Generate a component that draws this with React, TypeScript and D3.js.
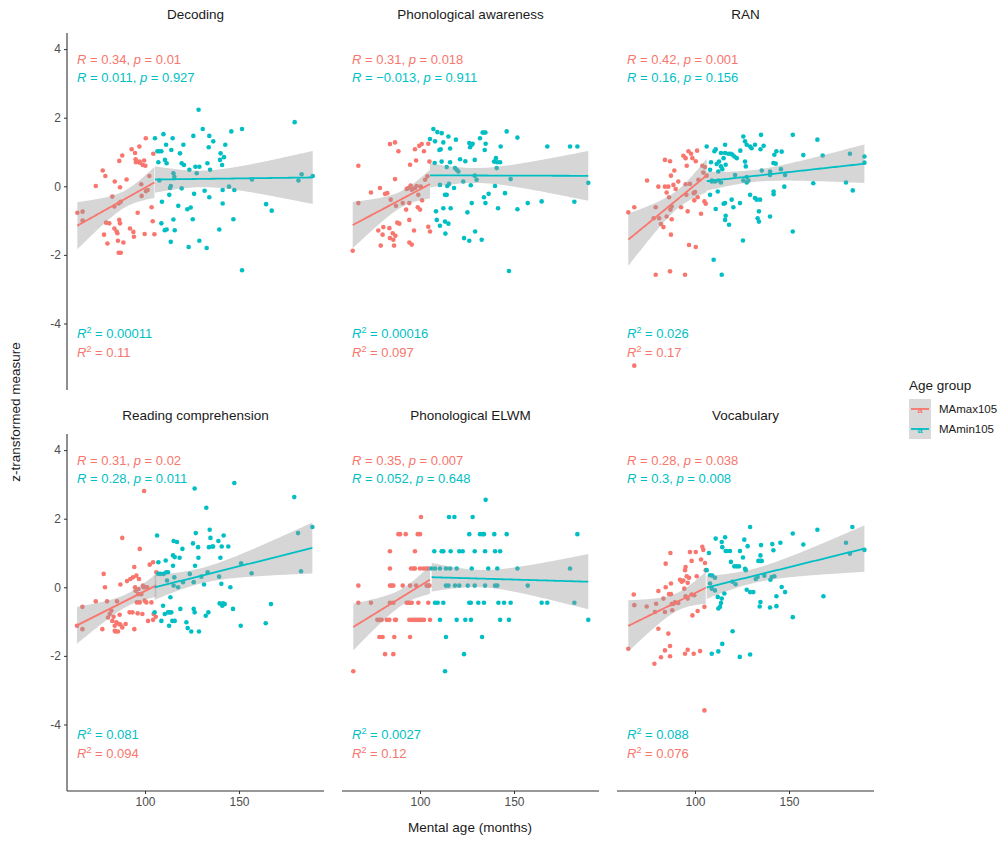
import React, { useEffect, useRef } from 'react';
import * as d3 from 'd3';

type Pt = [number, number];

const groups = ['MAmax105', 'MAmin105'];
const groupColors = ['#F8766D', '#00BFC4'];
const yTicks = [-4, -2, 0, 2, 4];
const xTicks = [100, 150];

const decodingRed: Pt[] = [[64.0,-0.77],[66.8,-0.74],[66.8,-1.0],[73.8,0.01],[77.5,0.46],[78.9,0.30],[78.2,-1.41],[80.0,-1.67],[79.3,-1.06],[81.0,-1.08],[82.6,-0.30],[83.7,-0.59],[83.9,0.14],[83.7,-1.23],[84.9,-1.32],[85.3,-1.37],[85.6,-1.59],[86.0,-1.94],[87.1,-1.94],[86.3,-0.98],[86.7,-1.08],[86.0,-0.50],[87.1,-0.45],[86.7,-0.03],[86.3,0.74],[87.9,0.90],[88.5,-1.64],[90.2,0.20],[92.0,-1.23],[92.9,1.08],[93.8,-1.33],[94.1,-1.47],[94.7,0.97],[95.0,0.79],[95.2,0.70],[97.0,1.16],[97.0,0.72],[96.1,-0.77],[97.3,0.69],[98.0,0.06],[98.2,-0.28],[98.8,0.62],[99.5,0.75],[100.2,0.60],[99.8,-1.39],[100.4,1.40],[100.5,-0.14],[101.4,-0.11],[102.3,0.30],[103.5,-0.61],[104.1,-1.02],[104.4,0.95],[105.0,-1.40]];
const decodingBlue: Pt[] = [[105.3,1.40],[106.6,1.02],[107.6,1.02],[108.7,1.02],[109.8,1.52],[110.6,0.77],[111.2,1.21],[111.5,0.67],[107.1,0.70],[107.6,0.17],[109.0,-0.45],[108.7,-1.08],[110.5,-1.28],[111.5,-1.26],[112.9,-0.25],[113.3,-0.05],[113.7,0.01],[113.7,-1.62],[114.0,1.06],[114.7,1.40],[115.1,0.38],[115.1,-0.97],[115.8,-1.28],[115.6,0.28],[117.7,-0.57],[118.6,0.96],[119.5,0.67],[120.4,1.21],[120.7,0.62],[119.5,-0.06],[122.5,-0.67],[123.2,-1.77],[123.6,0.48],[124.3,-0.62],[125.4,-0.96],[125.7,1.47],[126.1,-0.22],[126.8,0.57],[127.5,0.38],[128.5,2.23],[128.9,0.57],[128.9,-1.59],[130.7,1.67],[131.7,-0.13],[132.8,-1.80],[133.2,0.67],[133.9,1.14],[134.2,1.47],[134.6,0.48],[134.2,-0.32],[136.3,1.31],[139.5,-1.26],[139.9,0.77],[140.2,0.96],[141.0,0.62],[141.3,-0.11],[141.3,-0.50],[142.0,0.85],[142.7,1.21],[144.7,-0.01],[145.9,1.60],[147.0,-0.96],[147.5,-0.11],[151.6,1.67],[151.6,-2.45],[156.9,0.20],[164.4,-0.52],[167.4,-0.71],[179.6,1.87],[181.6,0.17],[183.3,0.35],[189.2,0.30]];

const phonRed: Pt[] = [[64.2,-1.88],[67.2,0.60],[67.2,-0.49],[73.9,-0.18],[77.8,-1.29],[78.7,-0.05],[79.1,-1.73],[80.1,-1.41],[80.5,-1.19],[81.4,-0.22],[82.6,-0.20],[83.7,-1.22],[84.0,1.23],[84.4,-0.39],[84.0,-1.51],[85.5,-1.37],[85.8,-1.56],[86.2,-1.73],[86.7,1.28],[86.7,0.21],[86.9,-1.44],[87.2,-0.57],[87.9,-1.06],[88.5,1.02],[89.0,-1.09],[90.8,-0.49],[92.6,-0.68],[92.9,-0.08],[93.8,-0.05],[94.7,0.63],[94.3,-0.98],[94.3,-0.49],[94.3,-1.64],[95.0,0.02],[95.6,-1.70],[95.6,-0.10],[96.1,-0.08],[96.8,-1.29],[97.3,1.08],[97.3,-0.05],[97.9,0.75],[98.2,0.01],[98.8,-0.61],[99.1,-0.25],[99.6,1.18],[100.0,-0.68],[100.4,-0.01],[100.9,1.23],[101.1,-0.41],[102.1,1.02],[102.7,0.19],[103.9,0.29],[104.4,1.24],[104.4,-1.18],[105.0,0.72],[105.3,-1.32]];
const phonBlue: Pt[] = [[105.3,1.38],[107.1,1.67],[108.0,1.31],[109.2,1.58],[110.3,1.06],[111.0,1.08],[111.5,1.55],[112.4,1.28],[115.1,1.45],[116.0,1.10],[119.1,1.36],[107.8,0.68],[110.6,0.04],[111.5,0.72],[112.4,-0.64],[113.3,-0.25],[114.2,0.56],[114.2,-0.25],[114.5,0.01],[115.4,0.07],[116.0,0.70],[116.3,-0.64],[118.1,-0.05],[118.6,0.53],[119.5,0.48],[120.4,0.43],[121.3,0.79],[108.5,-0.73],[108.9,-0.98],[110.6,-1.15],[113.3,-1.03],[115.1,-1.09],[113.5,-1.38],[123.0,0.14],[124.1,0.73],[125.2,-0.76],[126.2,1.26],[126.6,1.14],[127.5,1.21],[128.0,1.24],[127.0,0.03],[127.5,-0.49],[129.1,0.77],[129.1,0.31],[130.1,0.19],[123.4,-1.51],[126.2,-1.59],[129.3,-1.32],[132.8,-1.56],[131.9,1.40],[133.3,1.57],[134.0,1.57],[134.8,1.57],[134.4,1.06],[134.9,1.24],[134.0,-0.32],[134.8,-0.49],[136.5,-0.22],[139.4,0.72],[139.9,0.01],[140.4,0.82],[140.8,0.53],[141.1,0.70],[142.6,0.70],[141.5,-0.64],[142.9,1.16],[145.2,-0.20],[146.1,1.60],[147.3,-2.47],[148.2,0.21],[151.8,1.42],[151.8,-0.67],[157.3,-0.49],[164.7,-0.44],[167.7,1.16],[179.8,1.16],[182.1,-0.45],[183.7,1.16],[189.5,0.10]];

const ranRed: Pt[] = [[64.5,-0.76],[67.7,-0.61],[74.5,0.17],[78.0,-0.93],[79.1,-0.61],[79.1,-2.58],[80.5,-0.01],[80.9,-0.93],[81.9,-1.10],[83.2,-1.19],[84.0,0.77],[84.0,-0.01],[84.9,-0.18],[84.9,-0.88],[85.8,-0.01],[86.2,-0.32],[86.7,0.73],[86.7,-2.48],[86.9,-0.68],[87.2,0.31],[87.2,-1.41],[87.6,-0.59],[87.6,-0.96],[88.5,0.04],[89.0,0.46],[89.7,-0.08],[91.1,0.14],[92.6,-0.61],[93.8,0.89],[94.7,-2.58],[95.0,0.82],[95.0,0.06],[95.4,-0.25],[95.6,0.60],[96.1,-0.73],[96.5,1.02],[96.8,-1.71],[97.3,0.07],[97.9,0.95],[98.6,0.82],[99.3,-0.20],[99.6,-0.41],[100.0,-0.17],[100.4,-1.77],[100.4,0.73],[101.1,1.04],[101.4,-0.32],[101.8,0.19],[103.2,-0.80],[103.9,0.60],[104.4,0.40],[105.0,-0.44],[105.3,0.56],[105.7,-0.51],[106.2,0.31],[67.7,-5.23]];
const ranBlue: Pt[] = [[106.2,1.16],[108.0,0.48],[108.5,0.70],[108.9,0.17],[110.3,1.02],[111.0,1.08],[111.5,0.65],[112.4,0.43],[112.8,0.72],[113.8,0.97],[113.8,0.58],[114.5,0.50],[115.2,0.82],[116.0,1.21],[116.0,0.97],[116.3,0.63],[117.7,0.95],[119.1,0.95],[119.9,0.92],[120.9,0.87],[122.2,0.82],[124.1,1.04],[125.7,1.45],[126.6,1.31],[127.5,1.21],[129.3,1.16],[130.1,1.11],[131.9,1.21],[135.1,1.50],[136.5,1.18],[134.8,1.08],[143.3,1.02],[146.1,1.01],[152.0,1.50],[157.6,0.91],[165.1,1.36],[167.9,0.90],[182.4,0.95],[190.1,0.87],[108.0,-0.25],[108.9,0.14],[110.6,0.14],[112.4,0.17],[112.1,-0.15],[113.8,0.11],[111.0,-0.66],[115.2,-0.51],[116.0,-0.49],[116.3,-0.86],[116.0,-0.98],[118.1,-1.12],[119.5,-0.39],[120.4,-0.61],[123.9,-0.49],[126.6,0.72],[127.0,0.58],[127.5,0.27],[128.4,0.17],[121.3,0.33],[129.3,-0.25],[131.9,-0.34],[132.8,-0.39],[134.6,-0.39],[134.0,-0.73],[133.3,-0.93],[134.0,-1.03],[139.9,-0.88],[135.5,0.46],[139.9,0.33],[139.9,0.43],[142.2,0.92],[141.7,0.68],[142.9,0.66],[145.7,0.50],[147.9,0.33],[147.5,-0.01],[141.8,-0.15],[141.8,-0.23],[152.0,-1.32],[125.5,-1.58],[109.9,-2.14],[114.2,-2.58],[180.3,0.11],[183.9,-0.12],[190.1,0.69],[162.9,0.09],[125.7,0.17],[127.5,0.11]];

const readRed: Pt[] = [[63.8,-1.12],[66.7,-0.57],[66.7,-1.22],[73.8,-0.41],[77.3,-1.22],[78.0,0.39],[78.7,0.00],[79.8,-0.41],[80.3,-0.88],[81.2,-0.78],[82.1,-0.68],[82.6,-0.98],[83.3,-0.86],[83.9,-1.27],[83.9,-1.12],[84.4,-1.29],[84.8,-1.02],[85.1,-0.41],[85.6,-1.29],[86.2,-1.07],[86.5,-0.80],[86.9,-1.09],[86.9,0.08],[87.9,-1.17],[87.9,1.44],[89.7,-1.07],[90.4,0.18],[91.8,-0.73],[92.2,0.24],[93.3,-0.73],[93.6,0.29],[94.3,-1.22],[94.3,0.59],[94.7,0.00],[95.0,-0.10],[95.4,0.34],[95.7,-0.44],[96.1,-0.76],[96.3,-0.20],[96.5,-0.05],[96.8,0.24],[99.5,2.81],[97.2,-0.44],[97.2,1.12],[98.0,-0.20],[98.6,-0.78],[98.9,0.05],[99.3,0.00],[99.8,-0.39],[100.4,0.00],[100.7,-0.44],[101.1,0.00],[101.6,-0.98],[102.5,0.66],[103.4,-0.44],[104.3,0.73],[104.3,-0.95],[104.6,-0.78],[105.7,-0.86],[106.0,0.44]];
const readBlue: Pt[] = [[105.1,-0.73],[106.4,1.51],[107.1,0.73],[107.1,0.39],[108.2,0.39],[108.7,-0.98],[109.6,-0.54],[109.9,0.39],[110.5,-0.78],[111.0,0.78],[111.3,0.44],[111.7,0.20],[112.2,0.44],[112.2,-0.73],[112.8,-1.12],[113.1,-0.73],[113.5,-0.29],[114.0,-0.73],[114.5,-0.98],[114.9,0.63],[114.9,0.93],[115.2,1.35],[115.2,0.05],[115.6,0.29],[115.8,-0.98],[115.8,0.88],[117.0,1.32],[117.6,0.00],[118.4,0.86],[118.8,-0.63],[119.9,1.12],[120.2,0.15],[122.0,-1.02],[122.7,-1.19],[123.8,0.39],[124.6,-1.29],[125.5,1.28],[125.9,0.15],[125.9,-0.63],[126.4,-0.73],[126.6,0.63],[127.0,1.58],[128.2,1.17],[128.4,0.86],[128.7,-1.29],[130.0,0.31],[131.4,0.08],[132.3,-0.83],[132.6,2.32],[133.3,0.44],[133.7,-0.73],[134.0,1.17],[134.4,1.68],[134.8,1.44],[135.8,1.19],[136.2,1.19],[139.0,1.35],[139.4,0.31],[139.7,-0.47],[140.1,0.86],[140.6,0.10],[140.8,1.19],[141.1,-0.54],[141.5,-0.47],[141.8,1.51],[142.4,-0.49],[144.3,1.19],[145.4,0.00],[146.8,-0.63],[147.5,3.04],[150.9,-1.12],[151.1,0.70],[156.7,0.41],[164.2,-1.05],[167.0,-0.49],[179.4,2.63],[181.4,1.58],[183.0,0.47],[189.0,1.76],[126.4,2.88]];

const elwmRed: Pt[] = [[100.5,2.05],[88.5,1.55],[89.4,1.55],[92.4,1.55],[98.8,1.55],[100.0,1.55],[84.0,1.05],[97.3,1.05],[84.0,0.55],[95.2,0.55],[96.5,0.55],[97.3,0.55],[100.0,0.55],[101.8,0.55],[103.2,0.55],[104.4,0.55],[67.2,0.05],[84.0,0.05],[84.9,0.05],[85.8,0.05],[90.8,0.05],[94.7,0.05],[97.9,0.05],[103.5,0.05],[104.4,0.05],[105.0,0.05],[67.2,-0.45],[73.9,-0.45],[84.0,-0.45],[85.8,-0.45],[92.9,-0.45],[93.8,-0.45],[94.7,-0.45],[95.6,-0.45],[99.1,-0.45],[104.4,-0.45],[77.3,-0.95],[78.4,-0.95],[79.6,-0.95],[82.3,-0.95],[83.7,-0.95],[86.7,-0.95],[87.2,-0.95],[94.3,-0.95],[95.6,-0.95],[96.8,-0.95],[97.9,-0.95],[99.1,-0.95],[100.0,-0.95],[100.9,-0.95],[102.1,-0.95],[105.3,-0.95],[78.4,-1.45],[80.1,-1.45],[86.3,-1.45],[94.7,-1.45],[81.4,-1.95],[85.8,-1.95],[64.5,-2.45]];
const elwmBlue: Pt[] = [[134.9,2.55],[115.4,2.05],[118.3,2.05],[128.0,2.05],[126.2,1.55],[131.9,1.55],[133.3,1.55],[134.0,1.55],[139.5,1.55],[146.1,1.55],[183.7,1.55],[107.6,1.05],[111.5,1.05],[112.4,1.05],[116.3,1.05],[120.9,1.05],[122.7,1.05],[129.1,1.05],[134.6,1.05],[139.9,1.05],[142.6,1.05],[106.2,0.55],[108.0,0.55],[110.6,0.55],[113.8,0.55],[116.0,0.55],[119.5,0.55],[127.5,0.55],[136.3,0.55],[141.1,0.55],[151.8,0.55],[179.8,0.55],[113.8,0.05],[115.1,0.05],[118.6,0.05],[120.9,0.05],[125.4,0.05],[129.1,0.05],[134.6,0.05],[139.9,0.05],[141.1,0.05],[157.3,0.05],[108.0,-0.45],[109.4,-0.45],[112.4,-0.45],[126.2,-0.45],[127.0,-0.45],[131.0,-0.45],[134.0,-0.45],[141.7,-0.45],[144.7,-0.45],[148.2,-0.45],[164.7,-0.45],[167.7,-0.45],[182.1,-0.45],[110.6,-0.95],[119.5,-0.95],[124.1,-0.95],[127.1,-0.95],[142.6,-0.95],[147.3,-0.95],[189.5,-0.95],[113.8,-1.45],[133.0,-1.45],[123.4,-1.95],[113.3,-2.45]];

const vocabRed: Pt[] = [[64.5,-1.79],[67.4,-0.21],[67.7,-0.52],[74.3,-0.56],[78.7,-0.72],[79.3,-0.48],[80.5,-0.11],[80.5,-1.21],[81.9,-2.04],[83.2,-0.33],[84.0,-0.72],[84.4,0.00],[84.4,0.69],[84.0,-1.84],[85.8,-1.35],[86.2,-0.20],[86.7,-1.71],[86.7,-2.01],[86.9,1.00],[87.2,-0.20],[87.6,-0.49],[87.2,0.11],[87.9,-0.67],[88.5,-0.48],[89.4,-0.44],[91.1,-0.46],[92.0,0.22],[92.9,0.16],[93.8,0.20],[94.3,-0.04],[94.7,0.50],[94.7,-1.94],[95.0,0.59],[95.0,-0.26],[95.6,0.32],[96.1,0.13],[96.1,-0.33],[96.8,0.28],[97.3,1.03],[98.2,0.77],[98.6,-0.82],[99.3,-1.94],[99.6,-0.23],[100.4,1.03],[100.9,0.32],[101.4,-0.69],[102.7,-1.86],[103.2,0.81],[103.9,1.18],[104.4,1.09],[105.0,-0.57],[105.3,0.71],[105.7,0.50],[105.0,-3.59],[96.1,-1.82],[78.4,-2.23],[98.2,-0.21]];
const vocabBlue: Pt[] = [[107.4,1.00],[106.2,0.50],[108.0,0.35],[109.2,0.34],[110.6,0.28],[108.0,0.11],[108.9,-0.04],[110.6,-0.09],[112.1,-0.28],[112.4,-0.62],[113.3,-0.57],[114.2,-0.33],[113.8,-0.46],[115.6,-0.18],[111.0,1.42],[114.2,1.32],[114.5,1.17],[116.0,1.46],[116.3,1.06],[117.0,1.06],[118.6,1.06],[119.1,0.74],[120.9,0.61],[122.2,0.61],[123.4,0.61],[123.9,1.06],[125.5,0.87],[126.2,1.39],[126.6,0.54],[127.0,0.50],[128.0,1.20],[129.3,1.76],[119.9,0.16],[121.6,0.09],[127.5,-0.07],[129.3,-0.14],[131.0,-0.14],[132.3,0.24],[133.3,0.30],[133.7,0.77],[134.8,0.77],[134.8,0.93],[135.5,0.77],[135.1,1.23],[136.9,0.34],[140.1,0.22],[140.8,0.30],[141.1,1.26],[141.7,1.08],[142.2,0.32],[145.4,1.30],[146.1,0.01],[147.9,-0.14],[143.3,-0.26],[134.8,-0.43],[134.4,-0.56],[139.9,-0.59],[143.3,-0.55],[152.0,1.57],[157.6,1.25],[165.1,1.68],[168.3,-0.26],[152.0,-0.87],[120.0,-1.28],[114.5,-1.65],[112.4,-1.87],[108.9,-1.94],[123.8,-2.03],[129.3,-1.96],[180.3,1.30],[182.4,0.98],[183.7,1.76],[190.1,1.09]];

const panelTitles = ['Decoding', 'Phonological awareness', 'RAN', 'Reading comprehension', 'Phonological ELWM', 'Vocabulary'];
const panelData: Pt[][][] = [
  [decodingRed, decodingBlue], [phonRed, phonBlue], [ranRed, ranBlue],
  [readRed, readBlue], [elwmRed, elwmBlue], [vocabRed, vocabBlue],
];
// [R, p] per group (red, blue)
const corrLabels = [
  [['0.34', '0.01'], ['0.011', '0.927']],
  [['0.31', '0.018'], ['\u22120.013', '0.911']],
  [['0.42', '0.001'], ['0.16', '0.156']],
  [['0.31', '0.02'], ['0.28', '0.011']],
  [['0.35', '0.007'], ['0.052', '0.648']],
  [['0.28', '0.038'], ['0.3', '0.008']],
];
// R² per group (red, blue)
const r2Labels = [
  ['0.11', '0.00011'], ['0.097', '0.00016'], ['0.17', '0.026'],
  ['0.094', '0.081'], ['0.12', '0.0027'], ['0.076', '0.088'],
];

function fit(pts: Pt[]) {
  const n = pts.length;
  const mx = d3.mean(pts, d => d[0])!;
  const my = d3.mean(pts, d => d[1])!;
  const sxx = d3.sum(pts, d => (d[0] - mx) ** 2);
  const sxy = d3.sum(pts, d => (d[0] - mx) * (d[1] - my));
  const b = sxy / sxx;
  const a = my - b * mx;
  const sse = d3.sum(pts, d => (d[1] - a - b * d[0]) ** 2);
  const s = Math.sqrt(sse / (n - 2));
  const t = 1.99;
  const [x0, x1] = d3.extent(pts, d => d[0]) as [number, number];
  const xs = d3.range(0, 81).map(i => x0 + ((x1 - x0) * i) / 80);
  return xs.map(x => {
    const yhat = a + b * x;
    const se = s * Math.sqrt(1 / n + (x - mx) ** 2 / sxx);
    return { x, y: yhat, lo: yhat - t * se, hi: yhat + t * se };
  });
}

const App: React.FC = () => {
  const svgRef = useRef<SVGSVGElement>(null);

  useEffect(() => {
    if (!svgRef.current) return;
    const svg = d3.select(svgRef.current);
    svg.selectAll('*').remove();
    const font = 'Arial, "Liberation Sans", sans-serif';

    const lefts = [67, 342, 617];
    const pw = 257;
    const tops = [33, 434];
    const ph = 357;

    const x = d3.scaleLinear().domain([58.5, 58.5 + pw / 1.88]).range([0, pw]);
    const y = d3.scaleLinear().domain([-5.94, 4.47]).range([ph, 0]);

    panelData.forEach((groupsPts, i) => {
      const col = i % 3;
      const row = Math.floor(i / 3);
      const g = svg.append('g').attr('transform', `translate(${lefts[col]},${tops[row]})`);

      g.append('text').attr('x', pw / 2).attr('y', -14).attr('text-anchor', 'middle')
        .attr('font-family', font).attr('font-size', 13.5).attr('fill', '#1a1a1a').text(panelTitles[i]);

      groupsPts.forEach((pts, gi) => {
        g.append('g').selectAll('circle').data(pts).join('circle')
          .attr('cx', d => x(d[0])).attr('cy', d => y(d[1])).attr('r', 2.3)
          .attr('fill', groupColors[gi]);
      });
      groupsPts.forEach((pts, gi) => {
        const f = fit(pts);
        g.append('path').datum(f).attr('fill', '#999999').attr('opacity', 0.4)
          .attr('d', d3.area<any>().x(d => x(d.x)).y0(d => y(d.lo)).y1(d => y(d.hi)));
        g.append('path').datum(f).attr('fill', 'none').attr('stroke', groupColors[gi]).attr('stroke-width', 1.8)
          .attr('d', d3.line<any>().x(d => x(d.x)).y(d => y(d.y)));
      });

      corrLabels[i].forEach((lab, gi) => {
        const t = g.append('text').attr('x', 10).attr('y', 31 + gi * 18)
          .attr('font-family', font).attr('font-size', 13).attr('fill', groupColors[gi]);
        t.append('tspan').attr('font-style', 'italic').text('R');
        t.append('tspan').text(` = ${lab[0]}, `);
        t.append('tspan').attr('font-style', 'italic').text('p');
        t.append('tspan').text(` = ${lab[1]}`);
      });
      [1, 0].forEach((gi, k) => {
        const t = g.append('text').attr('x', 10).attr('y', 305 + k * 19)
          .attr('font-family', font).attr('font-size', 13).attr('fill', groupColors[gi]);
        t.append('tspan').attr('font-style', 'italic').text('R');
        t.append('tspan').attr('font-size', 9).attr('dy', -5).text('2');
        t.append('tspan').attr('dy', 5).text(` = ${r2Labels[i][gi]}`);
      });

      if (col === 0) {
        const ax = g.append('g').call(d3.axisLeft(y).tickValues(yTicks).tickSize(3).tickFormat(d => String(d)));
        ax.select('.domain').attr('stroke', '#333').attr('stroke-width', 1.1).attr('d', `M0,0V${ph}`);
        ax.selectAll('.tick line').attr('stroke', '#333');
        ax.selectAll('.tick text').attr('font-family', font).attr('font-size', 12).attr('fill', '#4d4d4d');
      }
      if (row === 1) {
        const ax = g.append('g').attr('transform', `translate(0,${ph})`)
          .call(d3.axisBottom(x).tickValues(xTicks).tickSize(3));
        ax.select('.domain').attr('stroke', '#333').attr('stroke-width', 1.1).attr('d', `M0,0H${pw}`);
        ax.selectAll('.tick line').attr('stroke', '#333');
        ax.selectAll('.tick text').attr('font-family', font).attr('font-size', 12).attr('fill', '#4d4d4d');
      }
    });

    svg.append('text').attr('x', 470).attr('y', 832).attr('text-anchor', 'middle')
      .attr('font-family', font).attr('font-size', 13.5).attr('fill', '#1a1a1a').text('Mental age (months)');
    svg.append('text').attr('transform', 'translate(20,412) rotate(-90)').attr('text-anchor', 'middle')
      .attr('font-family', font).attr('font-size', 13.5).attr('fill', '#1a1a1a').text('z-transformed measure');

    const lg = svg.append('g').attr('transform', 'translate(909,378)');
    lg.append('text').attr('x', 0).attr('y', 12).attr('font-family', font).attr('font-size', 13.5)
      .attr('fill', '#1a1a1a').text('Age group');
    groups.forEach((name, gi) => {
      const yy = 21 + gi * 20;
      lg.append('rect').attr('x', 0).attr('y', yy).attr('width', 22).attr('height', 20).attr('fill', '#d9d9d9');
      lg.append('line').attr('x1', 2).attr('x2', 20).attr('y1', yy + 10).attr('y2', yy + 10)
        .attr('stroke', groupColors[gi]).attr('stroke-width', 1.8);
      lg.append('text').attr('x', 11).attr('y', yy + 13.5).attr('text-anchor', 'middle').attr('font-family', font)
        .attr('font-size', 9).attr('font-weight', 'bold').attr('fill', groupColors[gi]).text('a');
      lg.append('text').attr('x', 30).attr('y', yy + 14).attr('font-family', font).attr('font-size', 11.5)
        .attr('fill', '#1a1a1a').text(name);
    });
  }, []);

  return (
    <svg ref={svgRef} width={1001} height={847}
      style={{ position: 'absolute', left: 0, top: 0, display: 'block' }} />
  );
};

export default App;
